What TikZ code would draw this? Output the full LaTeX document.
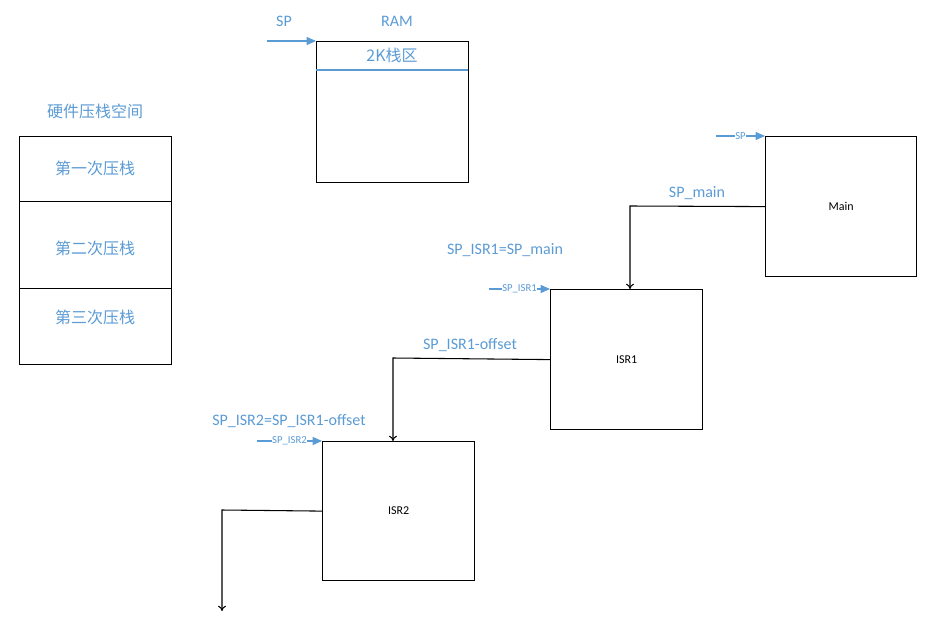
\documentclass[tikz,border=0pt]{standalone}
\usepackage{fontspec}
\setmainfont{Carlito}
\newfontfamily\cjk{Noto Sans CJK SC}
\usetikzlibrary{arrows.meta}
\definecolor{lblue}{HTML}{5B9BD5}
\begin{document}
\begin{tikzpicture}[x=0.75pt,y=-0.75pt,
  box/.style={draw,line width=0.9pt,minimum width=152*0.75pt,minimum height=#1*0.75pt,inner sep=0pt,anchor=north west},
  btxt/.style={text=lblue,font=\fontsize{12}{14}\selectfont},
  ctxt/.style={text=lblue,font=\cjk\fontsize{12}{14}\selectfont},
  stxt/.style={text=black,font=\fontsize{9}{10}\selectfont},
  tiny/.style={text=lblue,font=\fontsize{8}{9}\selectfont,inner sep=0.5pt,fill=white},
  sparrow/.style={draw=lblue,line width=0.8pt,-{Triangle[length=7pt,width=6pt]}},
  conn/.style={draw,line width=0.8pt,-{To[length=4pt,width=6pt]}}]
\useasboundingbox (0,0) rectangle (930,631);
% RAM
\node[btxt] (splbl) at (284,21) {SP};
\node[btxt] (ramlbl) at (397,21) {RAM};
\node[box=141] (ram) at (316,41) {};
\coordinate (spstart) at (267,41);
\draw[sparrow] (spstart) -- (ram.north west);
\coordinate (rl) at (316,70);
\coordinate (rr) at (468,70);
\draw[lblue,line width=0.8pt] (rl) -- (rr);
\node[ctxt] (ramk) at (392,55) {2K栈区};
% hardware stack
\node[ctxt] (hwlbl) at (95,111) {硬件压栈空间};
\node[box=65] (s1) at (19,136) {};
\node[box=87] (s2) at (19,201) {};
\node[box=76] (s3) at (19,288) {};
\node[ctxt] (t1) at (95,168) {第一次压栈};
\node[ctxt] (t2) at (95,248) {第二次压栈};
\node[ctxt] (t3) at (95,317) {第三次压栈};
% Main
\node[box=140,minimum width=151*0.75pt] (main) at (765,136) {};
\node[stxt] (maint) at (main.center) {Main};
\coordinate (msp) at (716,136);
\draw[sparrow] (msp) -- node[tiny] {SP} (main.north west);
% ISR1
\node[box=140] (isr1) at (550,289) {};
\node[stxt] (isr1t) at (isr1.center) {ISR1};
\coordinate (i1sp) at (489,289);
\draw[sparrow] (i1sp) -- node[tiny] {SP\_ISR1} (isr1.north west);
% ISR2
\node[box=139] (isr2) at (322,441) {};
\node[stxt] (isr2t) at (isr2.center) {ISR2};
\coordinate (i2sp) at (257,441);
\draw[sparrow] (i2sp) -- node[tiny] {SP\_ISR2} (isr2.north west);
% connectors
\coordinate (c1) at (630,206);
\coordinate (c1e) at (630,289);
\draw[conn] (main.west) -- (c1) -- (c1e);
\node[btxt] (spmain) at (697,193) {SP\_main};
\node[btxt] (eq1) at (505,250) {SP\_ISR1=SP\_main};
\coordinate (c2) at (393,358);
\coordinate (c2e) at (393,441);
\draw[conn] (isr1.west) -- (c2) -- (c2e);
\node[btxt] (off1) at (470,345) {SP\_ISR1-offset};
\node[btxt] (eq2) at (289,421) {SP\_ISR2=SP\_ISR1-offset};
\coordinate (c3) at (222,510);
\coordinate (c3e) at (222,611);
\draw[conn] (isr2.west) -- (c3) -- (c3e);
\end{tikzpicture}
\end{document}
